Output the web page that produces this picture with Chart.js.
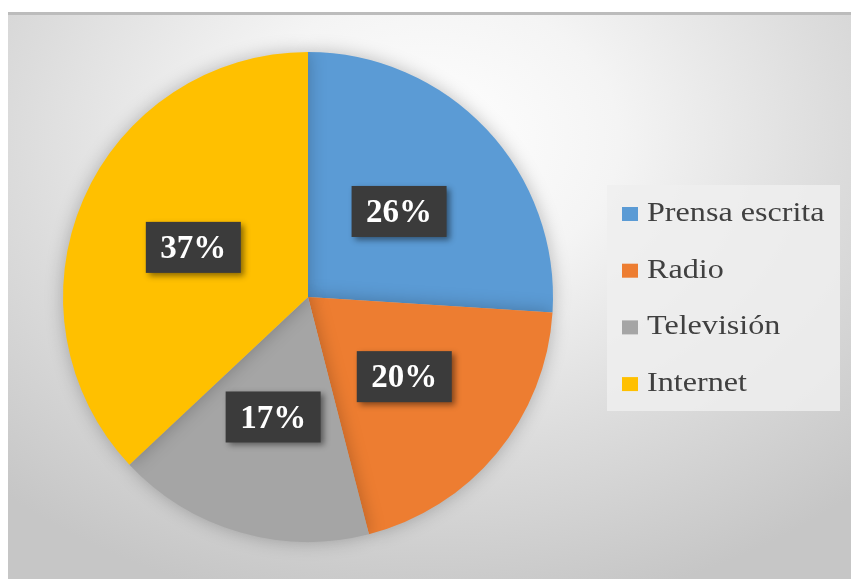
<!DOCTYPE html>
<html>
<head>
<meta charset="utf-8">
<script src="https://cdn.jsdelivr.net/npm/chart.js@4"></script>
<style>
	html, body { margin: 0; padding: 0; background: #ffffff; }
	#marco {
		position: absolute; left: 8px; top: 12px; width: 843px; height: 567px;
		box-sizing: border-box; border-top: 3px solid #bcbcbc;
		background: radial-gradient(ellipse 75% 85% at 50% 22%, #ffffff 0%, #f4f4f4 30%, #dcdcdc 65%, #c6c6c6 100%);
	}
	#grafico { position: absolute; left: 0; top: -3px; }
</style>
</head>
<body>
<div id="marco"><canvas id="grafico" width="843" height="567"></canvas></div>
<script>
// medios de comunicacion (porcentaje)
let medios = ["Prensa escrita", "Radio", "Televisión", "Internet"];
let porcentajes = [26, 20, 17, 37];
let colores = ["#5b9bd5", "#ed7d31", "#a5a5a5", "#ffc000"];

// sombra suave bajo el pastel
const sombraPastel = {
	id: 'sombraPastel',
	beforeDatasetsDraw(chart) {
		const ctx = chart.ctx;
		ctx.save();
		ctx.shadowColor = 'rgba(0,0,0,0.25)';
		ctx.shadowBlur = 18;
	},
	afterDatasetsDraw(chart) {
		chart.ctx.restore();
	}
};

// etiquetas oscuras con el porcentaje de cada sector
const etiquetas = {
	id: 'etiquetas',
	afterDatasetsDraw(chart) {
		const ctx = chart.ctx;
		const arcos = chart.getDatasetMeta(0).data;
		arcos.forEach(function(a, i) {
			const p = a.getProps(['x', 'y', 'startAngle', 'endAngle', 'outerRadius'], true);
			const m = (p.startAngle + p.endAngle) / 2;
			const r = p.outerRadius * 0.51;
			const cx = p.x + Math.cos(m) * r;
			const cy = p.y + Math.sin(m) * r;
			const w = 95, h = 51;
			ctx.save();
			ctx.shadowColor = 'rgba(0,0,0,0.45)';
			ctx.shadowBlur = 6;
			ctx.shadowOffsetX = 3;
			ctx.shadowOffsetY = 3;
			ctx.fillStyle = '#3b3b3b';
			ctx.fillRect(cx - w / 2, cy - h / 2, w, h);
			ctx.restore();
			ctx.save();
			ctx.fillStyle = '#ffffff';
			ctx.font = 'bold 33px "Liberation Serif"';
			ctx.textAlign = 'center';
			ctx.textBaseline = 'middle';
			ctx.fillText(porcentajes[i] + '%', cx, cy + 2);
			ctx.restore();
		});
	}
};

// leyenda a la derecha dentro de un recuadro claro
const leyenda = {
	id: 'leyenda',
	afterDraw(chart) {
		const ctx = chart.ctx;
		ctx.save();
		ctx.fillStyle = 'rgba(238,238,238,0.85)';
		ctx.fillRect(599, 173, 233, 226);
		ctx.font = '27px "Liberation Serif"';
		ctx.textBaseline = 'middle';
		for (let i = 0; i < medios.length; i++) {
			const y = 202 + i * 56.7;
			ctx.fillStyle = colores[i];
			ctx.fillRect(614, y - 7, 16, 14);
			ctx.fillStyle = '#404040';
			ctx.save();
			ctx.translate(639, y);
			ctx.scale(1.19, 1);
			ctx.fillText(medios[i], 0, 0);
			ctx.restore();
		}
		ctx.restore();
	}
};

new Chart(document.getElementById("grafico"), {
	type: 'pie',
	data: {
		labels: medios,
		datasets: [{
			data: porcentajes,
			backgroundColor: colores,
			borderWidth: 0
		}]
	},
	options: {
		responsive: false,
		animation: false,
		layout: { padding: { left: 55, right: 298, top: 40, bottom: 37 } },
		plugins: {
			legend: { display: false },
			tooltip: { enabled: false }
		}
	},
	plugins: [sombraPastel, etiquetas, leyenda]
});
</script>
</body>
</html>
